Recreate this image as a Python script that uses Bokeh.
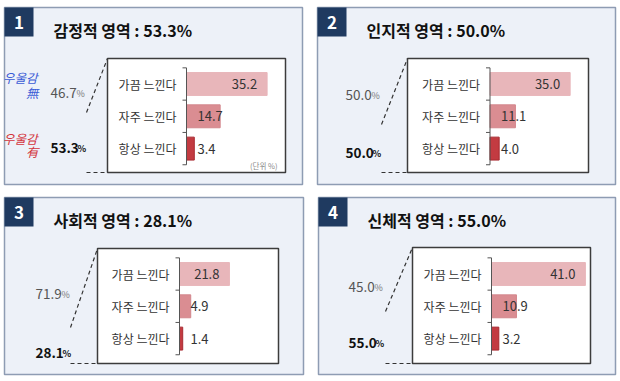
import math
from bokeh.plotting import figure
from bokeh.models import Range1d, ColumnDataSource
from bokeh.core.properties import value
from bokeh.embed import file_html
from bokeh.resources import INLINE

# ---------------- data ----------------
domains = ["감정적 영역", "인지적 영역", "사회적 영역", "신체적 영역"]
depressed = [53.3, 50.0, 28.1, 55.0]          # 우울감 有
not_depressed = [46.7, 50.0, 71.9, 45.0]      # 우울감 無
freq_labels = ["가끔 느낀다", "자주 느낀다", "항상 느낀다"]
sometimes = [35.2, 35.0, 21.8, 41.0]
often = [14.7, 11.1, 4.9, 10.9]
always = [3.4, 4.0, 1.4, 3.2]
bar_colors = ["#e8b6ba", "#da8d92", "#c33b41"]
bar_lines = ["#e8b6ba", "#d3868c", "#a82a31"]

# ---------------- layout (pixels) ----------------
W, H = 620, 381
K = 2.29     # px per percentage point
ROW = 32.3   # px between bar rows
layout = [
    dict(x0=4, y0=7, x1=302, y1=184, tx=53, box=(107, 58, 285, 172), ax=186, c0=83.5,
         lx=50, gy=88, by=143, dash=(86, 112)),
    dict(x0=317, y0=7, x1=615, y1=184, tx=366, box=(407, 58, 588, 172), ax=489.5, c0=83.5,
         lx=345, gy=90, by=148, dash=(381, 124)),
    dict(x0=4, y0=197, x1=303, y1=374, tx=53, box=(97, 248, 278, 363), ax=179, c0=273.5,
         lx=35, gy=289, by=348, dash=(70, 327)),
    dict(x0=318, y0=197, x1=615, y1=374, tx=367, box=(412, 247, 590, 363), ax=491, c0=273.5,
         lx=348, gy=282, by=338, dash=(385, 311)),
]

FONT = value("Noto Sans CJK KR")

p = figure(width=W, height=H, x_range=Range1d(0, W), y_range=Range1d(H, 0),
           x_axis_type=None, y_axis_type=None, toolbar_location=None,
           output_backend="svg", min_border=0, outline_line_color=None,
           background_fill_color="white", border_fill_color="white")
p.grid.visible = False


def txt(x, y, s, size, color="#222", style="normal", align="left", baseline="middle", **kw):
    p.text(x=[x], y=[y], text=[s], text_font=FONT, text_font_size=f"{size}px",
           text_color=color, text_font_style=style, text_align=align,
           text_baseline=baseline, **kw)


for i, L in enumerate(layout):
    # panel background
    p.quad(left=[L["x0"]], right=[L["x1"]], top=[L["y0"]], bottom=[L["y1"]],
           fill_color="#edf1f8", line_color="#8e9cb3", line_width=1.5)
    # number box
    p.quad(left=[L["x0"]], right=[L["x0"] + 29], top=[L["y0"]], bottom=[L["y0"] + 29],
           fill_color="#1f3a60", line_color=None)
    txt(L["x0"] + 14.5, L["y0"] + 15, str(i + 1), 17, "white", "bold", "center")
    # title
    txt(L["tx"], L["y0"] + 22, f"{domains[i]} : {depressed[i]:.1f}%", 16, "#111", "bold")

    bl, bt, br, bb = L["box"]
    # dashed connector lines
    dx, dy = L["dash"]
    p.segment(x0=[dx, dx], y0=[dy, bb], x1=[bl, bl], y1=[bt, bb],
              line_color="#333333", line_width=1.2, line_dash="4 3")
    # inner white box
    p.quad(left=[bl], right=[br], top=[bt], bottom=[bb],
           fill_color="white", line_color="#3c3c3c", line_width=1.5)

    # left percentages
    txt(L["lx"], L["gy"] + 4.5, f"{not_depressed[i]:.1f}", 13.5, "#555555", baseline="alphabetic")
    txt(L["lx"] + 26, L["gy"] + 4.5, "%", 9, "#777777", baseline="alphabetic")
    txt(L["lx"], L["by"] + 4.5, f"{depressed[i]:.1f}", 13.5, "#111111", "bold", baseline="alphabetic")
    txt(L["lx"] + 27, L["by"] + 4.5, "%", 9, "#111111", "bold", baseline="alphabetic")

    # value/category scales for this panel's bar chart
    xr, yr = f"v{i}", f"c{i}"
    p.extra_x_ranges[xr] = Range1d(-L["ax"] / K, (W - L["ax"]) / K)
    p.extra_y_ranges[yr] = Range1d((H - L["c0"]) / ROW, -L["c0"] / ROW)

    vals = [sometimes[i], often[i], always[i]]
    src = ColumnDataSource(dict(y=[0, 1, 2], v=vals, lab=freq_labels,
                                txt=[f"{v:.1f}" for v in vals],
                                fc=bar_colors, lc=bar_lines))
    p.hbar(y="y", left=0, right="v", height=0.71, fill_color="fc", line_color="lc",
           line_width=1, source=src, x_range_name=xr, y_range_name=yr)

    # bracket axis
    p.segment(x0=[0], y0=[-0.5], x1=[0], y1=[2.5], line_color="#555555", line_width=1,
              x_range_name=xr, y_range_name=yr)
    p.ray(x=[0] * 4, y=[-0.5, 0.5, 1.5, 2.5], length=4, length_units="screen",
          angle=math.pi, line_color="#555555", line_width=1,
          x_range_name=xr, y_range_name=yr)

    # category labels
    p.text(x=0, y="y", text="lab", source=src, x_offset=-10, text_align="right",
           text_baseline="middle", text_font=FONT, text_font_size="12px",
           text_color="#333333", x_range_name=xr, y_range_name=yr)
    # value labels
    p.text(x=[vals[0]], y=[0], text=[f"{vals[0]:.1f}"], x_offset=-10, text_align="right",
           text_baseline="middle", text_font=FONT, text_font_size="13px",
           text_color="#333333", x_range_name=xr, y_range_name=yr)
    p.text(x=[0, 0], y=[1, 2], text=[f"{vals[1]:.1f}", f"{vals[2]:.1f}"], x_offset=11,
           text_align="left", text_baseline="middle", text_font=FONT,
           text_font_size="13px", text_color="#333333", x_range_name=xr, y_range_name=yr)

# panel 1 extras
txt(37, 77, "우울감", 12.5, "#3a5bd6", "italic", "right")
txt(38, 92, "無", 12.5, "#3a5bd6", "italic", "right")
txt(37, 138, "우울감", 12.5, "#d3343c", "italic", "right")
txt(38, 151, "有", 12.5, "#d3343c", "italic", "right")
txt(277, 165, "(단위 %)", 7.5, "#888888", align="right")

open("out.html", "w").write(file_html(p, INLINE))
